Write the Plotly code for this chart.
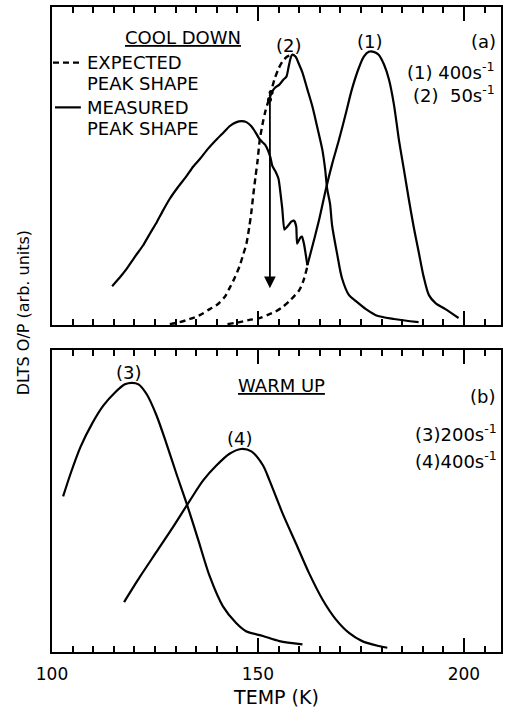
import plotly.graph_objects as go

# ---------------- Panel (a): COOL DOWN ----------------
# measured curve (2): from the dot up over peak (2) and down the high-T tail
meas2_peak_T = [152.8, 153.3, 154.2, 155.2, 156.2, 156.9, 157.4, 157.9, 158.3, 159.1, 160.0, 160.8,
                162.0, 163.2, 164.4, 165.6, 166.3, 166.8, 167.5, 168.0, 169.2, 170.4, 172.1, 173.8,
                176.2, 178.6, 183.0, 189.0]
meas2_peak_y = [70.9, 73.1, 74.7, 75.6, 77.2, 78.1, 80.9, 83.8, 85.0, 84.4, 81.9, 79.4,
                74.1, 68.8, 62.2, 55.3, 49.1, 42.8, 38.1, 31.3, 22.5, 14.7, 9.4, 7.5,
                5.0, 3.1, 1.9, 0.9]
# measured curve (2): broad low-T hump and the wiggles
meas2_hump_T = [114.6, 116.5, 118.2, 120.2, 122.1, 123.8, 125.5, 126.9, 128.6, 130.6, 132.7, 134.2,
                135.9, 137.8, 140.0, 141.7, 143.1, 144.8, 146.0, 147.2, 148.4, 149.4, 150.4, 151.1,
                151.8, 152.5, 153.0, 153.5, 154.2, 155.0, 155.4, 155.9, 156.4, 157.1, 158.1, 158.8,
                159.3, 159.5, 160.3, 160.7, 161.2, 162.0]
meas2_hump_y = [12.2, 15.0, 17.8, 21.6, 25.0, 28.8, 32.5, 35.9, 39.7, 43.4, 46.9, 49.7,
                52.2, 55.3, 58.4, 60.6, 62.5, 63.8, 64.1, 63.8, 62.5, 60.6, 58.4, 57.5,
                56.6, 54.7, 52.8, 50.0, 48.4, 45.9, 42.2, 36.6, 30.0, 30.9, 32.5, 32.8,
                30.9, 25.6, 27.5, 27.8, 25.3, 18.8]
# curve (1), 400 s^-1
curve1_T = [162.0, 163.7, 164.9, 166.5, 168.0, 169.7, 171.4, 172.8, 174.5, 175.7, 176.9, 178.1,
            179.3, 180.6, 181.8, 183.0, 184.2, 185.4, 186.6, 187.8, 189.0, 190.2, 191.5, 193.1,
            195.5, 198.7]
curve1_y = [18.8, 27.2, 33.4, 42.8, 50.6, 58.4, 66.9, 74.1, 80.9, 84.4, 85.9, 85.9,
            85.0, 81.9, 77.2, 69.4, 58.4, 49.1, 39.7, 30.9, 23.1, 15.3, 9.4, 6.9,
            5.0, 2.2]
# expected peak shape (2), dashed
exp2_T = [128.6, 131.0, 133.5, 135.9, 138.3, 140.0, 141.9, 143.1, 144.3, 145.5, 146.5, 147.2,
          147.9, 148.4, 148.9, 149.4, 149.9, 150.4, 151.1, 151.8, 152.8, 154.0, 154.9, 155.9,
          157.1, 158.3]
exp2_y = [0.3, 0.9, 1.9, 3.1, 5.0, 6.3, 8.8, 11.6, 14.7, 18.4, 22.5, 25.6,
          30.9, 35.6, 41.3, 46.6, 51.6, 57.8, 63.1, 67.2, 71.6, 77.2, 80.3, 82.8,
          84.4, 85.0]
# expected low-T tail of curve (1), dashed
exp1_T = [142.6, 145.5, 147.9, 150.4, 152.8, 154.5, 156.2, 157.6, 158.8, 160.0, 161.0, 162.0]
exp1_y = [0.3, 0.9, 1.6, 2.2, 3.4, 4.4, 5.9, 7.5, 9.1, 10.9, 13.8, 18.4]
# dots where the signal collapses, and the arrow
dots_T = [152.8, 153.2]
dots_y = [70.9, 73.1]
arrow_T = 152.9
arrow_from_y = 70.9
arrow_to_y = 11.6

# ---------------- Panel (b): WARM UP ----------------
curve3_T = [102.7, 104.5, 106.9, 109.7, 112.5, 115.3, 117.7, 119.4, 121.0, 123.0, 125.4, 127.8,
            130.2, 132.7, 135.5, 138.3, 141.5, 144.7, 147.1, 151.2, 155.2, 160.8]
curve3_y = [51.5, 59.0, 67.8, 75.5, 81.6, 85.9, 88.6, 89.1, 88.6, 85.3, 78.2, 68.9,
            59.0, 49.1, 37.1, 25.0, 15.1, 9.6, 6.9, 5.3, 3.6, 2.5]
curve4_T = [117.5, 121.4, 125.4, 129.4, 133.5, 136.7, 139.9, 143.1, 145.9, 148.4, 151.2, 152.8,
            156.0, 159.2, 162.4, 165.7, 168.9, 172.1, 175.3, 179.3, 181.4]
curve4_y = [16.5, 25.0, 33.2, 41.4, 50.2, 56.8, 61.7, 65.6, 67.2, 66.4, 61.8, 56.8,
            45.8, 36.0, 26.1, 17.3, 10.8, 6.3, 3.6, 2.0, 1.4]

x_tick_vals = [100, 150, 200]
x_tick_text = ["100", "150", "200"]

# ---------------- figure ----------------
W, H = 505, 708
ML, MR, MT, MB = 52, 2, 7, 52
PW, PH = W - ML - MR, H - MT - MB
FONT = "DejaVu Sans"


def P(px, py):
    """pixel position -> paper coordinates (for text placement)"""
    return (px - ML) / PW, (H - MB - py) / PH


bot_dom = [0, (H - MB - 352) / PH]
top_dom = [(H - MB - 327) / PH, 1]

fig = go.Figure()
solid = dict(color="black", width=2.2)
dashed = dict(color="black", width=2.4, dash="6px,4px")
smooth = dict(shape="spline", smoothing=0.8)

fig.add_trace(go.Scatter(x=meas2_peak_T, y=meas2_peak_y, mode="lines", line=dict(**solid, **smooth),
                         xaxis="x2", yaxis="y2"))
fig.add_trace(go.Scatter(x=meas2_hump_T, y=meas2_hump_y, mode="lines", line=dict(**solid, shape="spline", smoothing=0.4),
                         xaxis="x2", yaxis="y2"))
fig.add_trace(go.Scatter(x=curve1_T, y=curve1_y, mode="lines", line=dict(**solid, **smooth),
                         xaxis="x2", yaxis="y2"))
fig.add_trace(go.Scatter(x=exp2_T, y=exp2_y, mode="lines", line=dict(**dashed, **smooth),
                         xaxis="x2", yaxis="y2"))
fig.add_trace(go.Scatter(x=exp1_T, y=exp1_y, mode="lines", line=dict(**dashed, **smooth),
                         xaxis="x2", yaxis="y2"))
fig.add_trace(go.Scatter(x=dots_T, y=dots_y, mode="markers", marker=dict(color="black", size=5),
                         xaxis="x2", yaxis="y2"))
fig.add_trace(go.Scatter(x=curve3_T, y=curve3_y, mode="lines", line=dict(**solid, **smooth),
                         xaxis="x", yaxis="y"))
fig.add_trace(go.Scatter(x=curve4_T, y=curve4_y, mode="lines", line=dict(**solid, **smooth),
                         xaxis="x", yaxis="y"))

xcommon = dict(range=[100, 209], showline=True, linecolor="black", linewidth=2, mirror="ticks",
               ticks="inside", tickvals=x_tick_vals, ticklen=14, tickwidth=1.6, tickcolor="black",
               minor=dict(tickmode="linear", tick0=100, dtick=5, ticks="inside", ticklen=6,
                          tickwidth=1.6, tickcolor="black"),
               showgrid=False, zeroline=False)
ycommon = dict(range=[0, 100], showline=True, linecolor="black", linewidth=2, mirror=True,
               ticks="", showticklabels=False, showgrid=False, zeroline=False)

fig.update_layout(
    width=W, height=H, margin=dict(l=ML, r=MR, t=MT, b=MB),
    paper_bgcolor="white", plot_bgcolor="white", showlegend=False,
    font=dict(family=FONT, color="black", size=16),
    xaxis=dict(**xcommon, anchor="y", ticktext=x_tick_text, tickfont=dict(size=17, family=FONT),
               ticklabelstandoff=6,
               title=dict(text="TEMP (K)", font=dict(size=19, family=FONT), standoff=8)),
    xaxis2=dict(**xcommon, anchor="y2", matches="x", showticklabels=False),
    yaxis=dict(**ycommon, domain=bot_dom, anchor="x"),
    yaxis2=dict(**ycommon, domain=top_dom, anchor="x2"),
)

ann = []


def txt(text, px, py, size=18, xanchor="center", **kw):
    x, y = P(px, py)
    ann.append(dict(text=text, x=x, y=y, xref="paper", yref="paper", showarrow=False,
                    xanchor=xanchor, yanchor="middle", font=dict(size=size, family=FONT, color="black"), **kw))


# panel (a) texts
txt("<u>COOL DOWN</u>", 184, 38)
txt("EXPECTED", 85, 63, xanchor="left")
txt("PEAK SHAPE", 85, 84, xanchor="left")
txt("MEASURED", 85, 108, xanchor="left")
txt("PEAK SHAPE", 85, 129, xanchor="left")
txt("(2)", 290, 46)
txt("(1)", 371, 42)
txt("(a)", 485, 42)
txt("(1) 400s<sup>-1</sup>", 499, 71, xanchor="right")
txt("(2)  50s<sup>-1</sup>", 499, 95, xanchor="right")
# panel (b) texts
txt("(3)", 129, 375)
txt("<u>WARM UP</u>", 283, 388)
txt("(b)", 484, 399)
txt("(3)200s<sup>-1</sup>", 501, 436, xanchor="right")
txt("(4)400s<sup>-1</sup>", 501, 463, xanchor="right")
txt("(4)", 241, 441)
# y-axis title
txt("DLTS O/P (arb. units)", 23, 315, size=16, textangle=-90)

# arrow marking the sudden drop
ann.append(dict(x=arrow_T, y=arrow_to_y, ax=arrow_T, ay=arrow_from_y, xref="x2", yref="y2",
                axref="x2", ayref="y2", showarrow=True, arrowhead=2, arrowsize=1.3,
                arrowwidth=1.8, arrowcolor="black", text=""))
fig.update_layout(annotations=ann)

# legend glyphs (dashed = expected, solid = measured)
x0, y0 = P(53, 63)
x1, _ = P(81, 63)
fig.add_shape(type="line", xref="paper", yref="paper", x0=x0, x1=x1, y0=y0, y1=y0,
              line=dict(color="black", width=2.2, dash="6px,4px"))
x0, y0 = P(55, 108)
x1, _ = P(81, 108)
fig.add_shape(type="line", xref="paper", yref="paper", x0=x0, x1=x1, y0=y0, y1=y0,
              line=dict(color="black", width=2.2))

fig.write_html("out.html", config={"displayModeBar": False},
               post_script="document.body.style.margin='0';document.body.style.padding='0';")
